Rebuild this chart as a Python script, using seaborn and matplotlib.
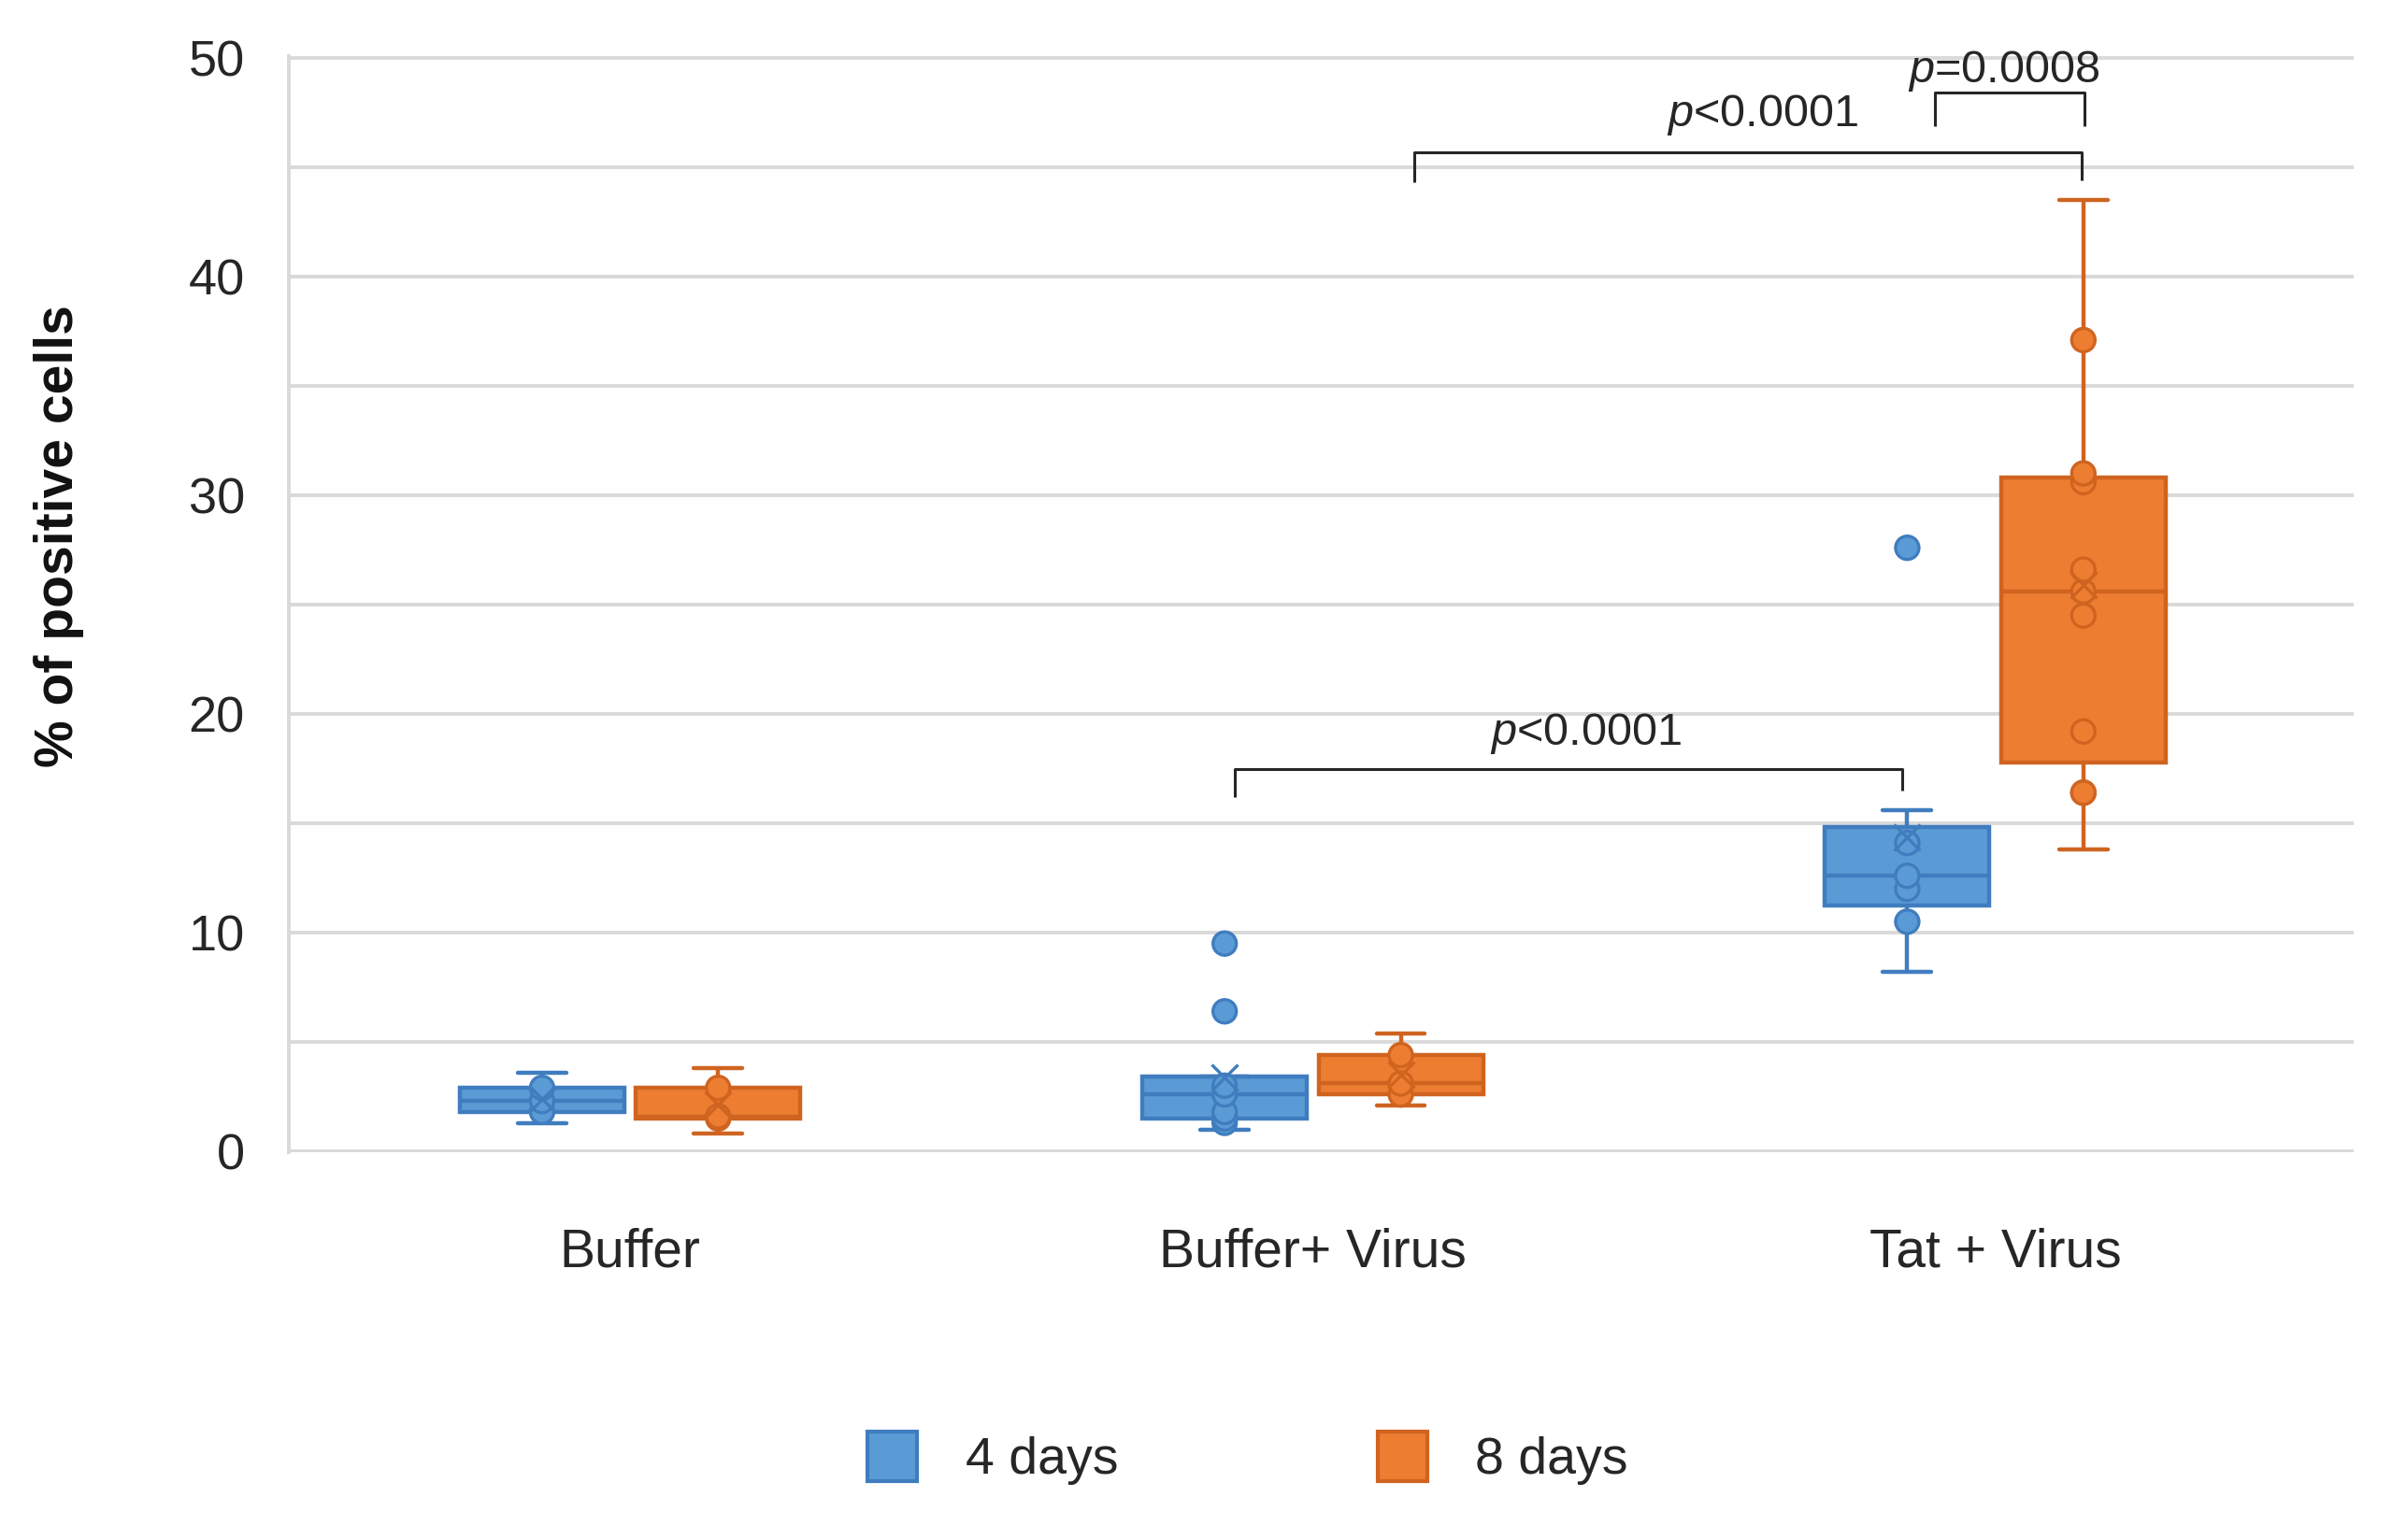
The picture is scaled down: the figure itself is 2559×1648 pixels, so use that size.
import numpy as np
import pandas as pd
import matplotlib
matplotlib.use('Agg')
import matplotlib.pyplot as plt
from matplotlib.patches import Patch
import seaborn as sns


groups = ['Buffer', 'Buffer+ Virus', 'Tat + Virus']
days = ['4 days', '8 days']

# % of positive cells, one list per group and time point
buffer_4d = [1.3, 1.8, 2.3, 2.9, 3.6]
buffer_8d = [0.8, 1.5, 1.6, 2.9, 3.8]
buffer_virus_4d = [1.0, 1.3, 1.5, 1.8, 2.6, 3.0, 3.4, 6.4, 9.5]
buffer_virus_8d = [2.1, 2.6, 3.1, 4.4, 5.4]
tat_virus_4d = [8.2, 10.5, 12.0, 12.6, 14.1, 15.6, 27.6]
tat_virus_8d = [13.8, 16.4, 16.4, 19.2, 24.5, 25.6, 26.6, 30.6, 31.0, 37.1, 43.5]

fill_colors = ['#5B9BD5', '#ED7D31']
edge_colors = ['#3F7DBF', '#CF6420']


def build_frame():
  '''
  Puts the per-group lists into one long dataframe for seaborn.
  Points sitting on the whisker ends are flagged so they are not drawn
  as dots (the whisker cap already marks them).
  '''
  series = {
    ('Buffer', '4 days'): buffer_4d,
    ('Buffer', '8 days'): buffer_8d,
    ('Buffer+ Virus', '4 days'): buffer_virus_4d,
    ('Buffer+ Virus', '8 days'): buffer_virus_8d,
    ('Tat + Virus', '4 days'): tat_virus_4d,
    ('Tat + Virus', '8 days'): tat_virus_8d,
  }
  rows = []
  for (group, day), values in series.items():
    v = np.array(values)
    q1, q3 = np.percentile(v, [25, 75])
    iqr = q3 - q1
    lo = v[v >= q1 - 1.5 * iqr].min()
    hi = v[v <= q3 + 1.5 * iqr].max()
    for x in values:
      rows.append({'Group': group, 'Day': day, 'Value': x,
                   'Shown': (x != lo) and (x != hi)})
  return pd.DataFrame(rows)


def bracket(ax, x1, x2, y, y1, y2):
  ax.plot([x1, x1, x2, x2], [y1, y, y, y2], color='#262626', lw=2.2,
          solid_capstyle='butt', zorder=4, clip_on=False)


def positive_cells_boxplot(df):
  '''
  Box and whisker plot of % positive cells per treatment, 4 vs 8 days

  @param df: long dataframe with Group, Day and Value columns
  @type df: pd.DataFrame
  '''
  assert isinstance(df, pd.DataFrame)

  sns.set_theme(style='white')
  plt.rcParams['font.family'] = ['Liberation Sans', 'DejaVu Sans']
  plt.rcParams['mathtext.fontset'] = 'custom'
  plt.rcParams['mathtext.rm'] = 'Liberation Sans'
  plt.rcParams['mathtext.it'] = 'Liberation Sans:italic'

  fig = plt.figure(figsize=(25.59, 16.48), dpi=100)
  ax = fig.add_axes([309 / 2559, 1 - 1233.2 / 1648, 2209 / 2559, (1233.2 - 59.7) / 1648])

  palette = dict(zip(days, fill_colors))
  for day, edge in zip(days, edge_colors):
    sub = df[df['Day'] == day]
    sns.boxplot(data=sub, x='Group', y='Value', hue='Day', order=groups,
                hue_order=days, palette=palette, linecolor=edge, linewidth=3.2,
                width=0.516, gap=0.066, dodge=True, showfliers=False,
                showmeans=True, capwidths=0.071, saturation=1,
                meanprops=dict(marker='x', markeredgecolor=edge,
                               markersize=20, markeredgewidth=2.4, zorder=4),
                legend=False, ax=ax)

  for day, fill, edge in zip(days, fill_colors, edge_colors):
    sub = df[(df['Day'] == day) & df['Shown']]
    sns.stripplot(data=sub, x='Group', y='Value', hue='Day', order=groups,
                  hue_order=days, palette={d: fill for d in days}, dodge=True,
                  jitter=False, size=18, edgecolor=edge, linewidth=2.4,
                  legend=False, zorder=3, ax=ax)

  # stripplot dodges by +-0.2, pull the points onto the narrower boxes
  for coll in ax.collections:
    off = coll.get_offsets()
    if len(off) == 0:
      continue
    x = np.asarray(off[:, 0], dtype=float)
    c = np.round(x)
    off[:, 0] = c + (x - c) * 0.129 / 0.2
    coll.set_offsets(off)

  ax.set_xlim(-0.5, 2.525)
  ax.set_ylim(-0.05, 50.1)
  ax.set_yticks(np.arange(0, 51, 10))
  ax.set_yticks(np.arange(5, 50, 10), minor=True)
  ax.grid(axis='y', which='both', color='#D9D9D9', lw=2.8)
  ax.set_axisbelow(True)
  ax.tick_params(axis='both', which='both', length=0)
  ax.tick_params(axis='y', labelsize=39, pad=34, labelcolor='#262626')
  ax.tick_params(axis='x', labelsize=41, pad=58, labelcolor='#262626')
  ax.set_xlabel('')
  ax.set_ylabel('')
  for side in ['top', 'right', 'bottom']:
    ax.spines[side].set_visible(False)
  ax.spines['left'].set_color('#D9D9D9')
  ax.spines['left'].set_linewidth(2.8)

  # significance brackets
  bracket(ax, 0.886, 1.864, 17.5, 16.2, 16.5)
  ax.text(1.40, 18.6, r'$\mathit{p}$<0.0001', fontsize=35, ha='center',
          va='baseline', color='#262626')
  bracket(ax, 1.149, 2.127, 45.7, 44.3, 44.4)
  ax.text(1.659, 46.9, r'$\mathit{p}$<0.0001', fontsize=35, ha='center',
          va='baseline', color='#262626')
  bracket(ax, 1.911, 2.13, 48.4, 46.9, 46.9)
  ax.text(2.012, 48.9, r'$\mathit{p}$=0.0008', fontsize=35, ha='center',
          va='baseline', color='#262626', clip_on=False)

  fig.text(63 / 2559, 1 - 574 / 1648, '% of positive cells', rotation=90,
           ha='center', va='center', fontsize=41, fontweight='bold',
           color='#111111')

  handles = [Patch(facecolor=f, edgecolor=e, linewidth=3)
             for f, e in zip(fill_colors, edge_colors)]
  fig.legend(handles, days, loc='center', bbox_to_anchor=(1335 / 2559, 0.053),
             ncol=2, frameon=False, fontsize=40, handlelength=0.95,
             handleheight=1.08, handletextpad=0.93, columnspacing=5.0)

  fig.savefig('out.png', dpi=100)


positive_cells_boxplot(build_frame())
